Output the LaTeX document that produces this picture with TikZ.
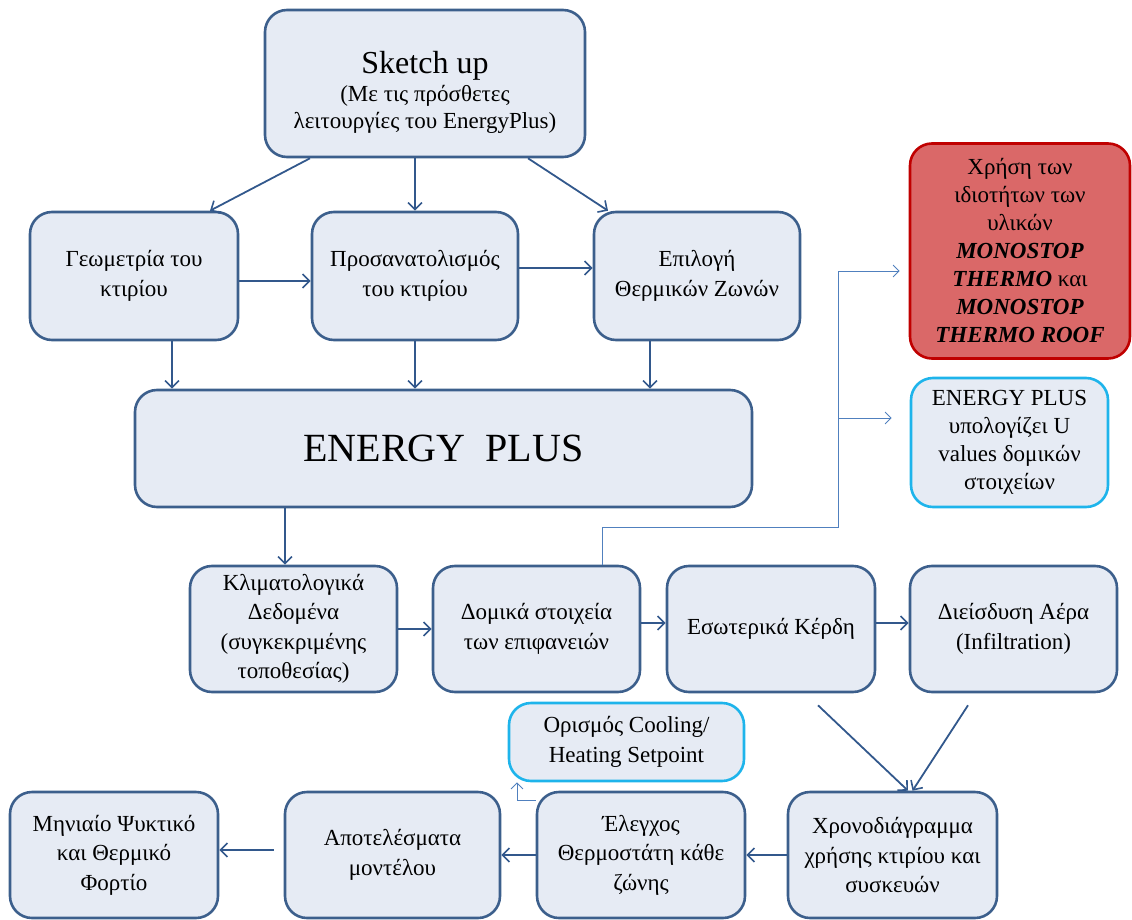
\documentclass[tikz,border=0pt]{standalone}
\usepackage{fontspec}
\setmainfont{Liberation Serif}
\usepackage{xcolor}
\usepackage{tikz}
\usetikzlibrary{arrows.meta}
\definecolor{BoxFill}{RGB}{230,235,244}
\definecolor{BoxLine}{RGB}{60,95,140}
\definecolor{ArrowBlue}{RGB}{50,88,140}
\definecolor{LinkBlue}{RGB}{80,128,190}
\definecolor{RedFill}{RGB}{218,104,104}
\definecolor{RedLine}{RGB}{192,0,0}
\definecolor{CyanLine}{RGB}{30,180,235}

\begin{document}
\begin{tikzpicture}[x=1pt, y=-1pt,
		box/.style={draw=BoxLine, fill=BoxFill, line width=2.6pt, rounded corners=22pt, align=center, inner sep=2pt, font=\fontsize{23}{29.5}\selectfont},
		redbox/.style={box, draw=RedLine, fill=RedFill, font=\fontsize{23}{28}\selectfont},
		cyanbox/.style={box, draw=CyanLine},
		arr/.style={draw=ArrowBlue, line width=1.8pt, -{Straight Barb[length=7pt, width=14pt, line width=1.6pt]}},
		link/.style={draw=LinkBlue, line width=0.9pt, -{Straight Barb[length=6pt, width=12pt, line width=0.9pt]}}]
		\useasboundingbox (0,0) rectangle (1132,920);
		
		\node[box, minimum width=320pt, minimum height=147pt, font=\fontsize{23}{27.5}\selectfont] (sketch) at (425,83.5) {\rule{0pt}{40pt}{\fontsize{32}{36}\selectfont Sketch up}\\(Με τις πρόσθετες\\λειτουργίες του EnergyPlus)};
		
		\node[box, minimum width=208pt, minimum height=128pt] (geom) at (134,276) {Γεωμετρία του\\κτιρίου};
		\node[box, minimum width=206pt, minimum height=128pt] (prosan) at (415,276) {Προσανατολισμός\\του κτιρίου};
		\node[box, minimum width=206pt, minimum height=128pt] (epil) at (697,276) {Επιλογή\\Θερμικών Ζωνών};
		
		\node[box, minimum width=617pt, minimum height=117pt, font=\fontsize{40}{48}\selectfont] (ep) at (443.5,448.5) {ENERGY\hspace{0.5em}PLUS};
		
		\node[redbox, minimum width=220pt, minimum height=215pt] (red) at (1020,251) {Χρήση των\\ιδιοτήτων των\\υλικών\\\textbf{\textit{MONOSTOP}}\\\textbf{\textit{THERMO}} και\\\textbf{\textit{MONOSTOP}}\\\textbf{\textit{THERMO ROOF}}};
		\node[cyanbox, minimum width=197pt, minimum height=129pt, font=\fontsize{23}{28}\selectfont] (ucalc) at (1009.5,442.5) {ENERGY PLUS\\υπολογίζει U\\values δομικών\\στοιχείων};
		
		\node[box, minimum width=207pt, minimum height=126pt] (klim) at (293.5,629) {Κλιματολογικά\\Δεδομένα\\(συγκεκριμένης\\τοποθεσίας)};
		\node[box, minimum width=207pt, minimum height=126pt] (domik) at (536.5,629) {Δομικά στοιχεία\\των επιφανειών};
		\node[box, minimum width=208pt, minimum height=126pt] (esot) at (771,629) {Εσωτερικά Κέρδη};
		\node[box, minimum width=207pt, minimum height=126pt] (dieis) at (1013.5,629) {Διείσδυση Αέρα\\(Infiltration)};
		
		\node[cyanbox, minimum width=235pt, minimum height=78pt] (oris) at (626.5,742) {Ορισμός Cooling/\\Heating Setpoint};
		
		\node[box, minimum width=208pt, minimum height=126pt] (minia) at (114,855) {Μηνιαίο Ψυκτικό\\και Θερμικό\\Φορτίο};
		\node[box, minimum width=215pt, minimum height=126pt] (apot) at (392.5,855) {Αποτελέσματα\\μοντέλου};
		\node[box, minimum width=208pt, minimum height=126pt] (elegx) at (641,855) {Έλεγχος\\Θερμοστάτη κάθε\\ζώνης};
		\node[box, minimum width=209pt, minimum height=126pt] (xron) at (892.5,855) {Χρονοδιάγραμμα\\χρήσης κτιρίου και\\συσκευών};
		
		\draw[arr] ([xshift=-115pt]sketch.south) -- ([xshift=76pt]geom.north);
		\draw[arr] ([xshift=-10pt]sketch.south) -- (prosan.north);
		\draw[arr] ([xshift=103pt]sketch.south) -- ([xshift=-89pt]epil.north);
		\draw[arr] ([yshift=-5pt]geom.east) -- ([yshift=-5pt]prosan.west);
		\draw[arr] ([yshift=8pt]prosan.east) -- ([yshift=8pt]epil.west);
		
		\draw[arr] ([xshift=38pt]geom.south) -- ([xshift=-271.5pt]ep.north);
		\draw[arr] (prosan.south) -- ([xshift=-28.5pt]ep.north);
		\draw[arr] ([xshift=-47pt]epil.south) -- ([xshift=206.5pt]ep.north);
		\draw[arr] ([xshift=-158.5pt]ep.south) -- ([xshift=-8.5pt]klim.north);
		
		\draw[arr] (klim.east) -- (domik.west);
		\draw[arr] ([yshift=6pt]domik.east) -- ([yshift=6pt]esot.west);
		\draw[arr] ([yshift=6pt]esot.east) -- ([yshift=6pt]dieis.west);
		\draw[arr] ([xshift=47pt, yshift=-12pt]esot.south) -- ([xshift=15.5pt]xron.north);
		\draw[arr] ([xshift=-45.5pt, yshift=-12pt]dieis.south) -- ([xshift=20pt]xron.north);
		
		\draw[arr] (xron.west) -- (elegx.east);
		\draw[arr] (elegx.west) -- (apot.east);
		\draw[arr] ([xshift=-10pt, yshift=5pt]apot.west) -- ([yshift=5pt]minia.east);
		
		\coordinate (t1) at (838,271);
		\coordinate (t2) at (838,418);
		\coordinate (t3) at (838,527);
		\draw[link, shorten >=9pt] ([xshift=65.5pt]domik.north) |- (t3) -- (t1) -- ([yshift=-20pt]red.west);
		\draw[link, shorten >=18pt] (t2) -- ([yshift=24.5pt]ucalc.west);
		\draw[link] ([yshift=-10pt]elegx.north west) -| ([xshift=-109.5pt]oris.south);
	\end{tikzpicture}
\end{document}
